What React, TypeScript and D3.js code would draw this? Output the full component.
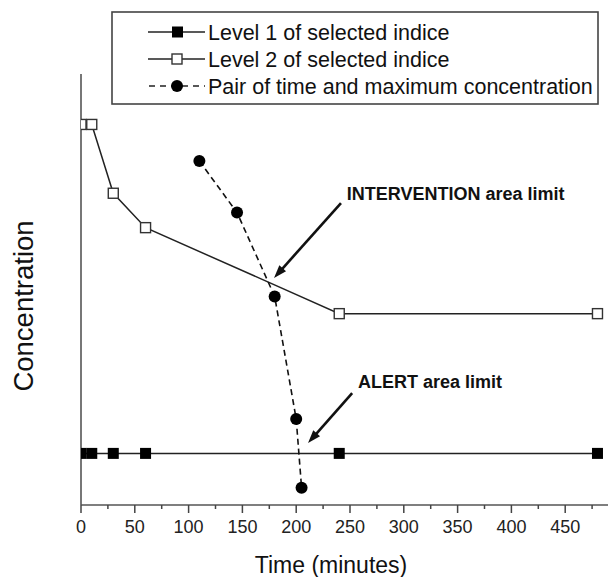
import React from "react";
import * as d3 from "d3";

const level1Times = [0, 10, 30, 60, 240, 480];
const level1Values = [1.2, 1.2, 1.2, 1.2, 1.2, 1.2];
const level2Times = [0, 10, 30, 60, 240, 480];
const level2Values = [8.85, 8.85, 7.25, 6.45, 4.45, 4.45];
const pairTimes = [110, 145, 180, 200, 205];
const pairValues = [8.0, 6.8, 4.85, 2.0, 0.4];
const xTicks = [0, 50, 100, 150, 200, 250, 300, 350, 400, 450];
const xMinorTicks = d3.range(0, 501, 25);
const legendLabels = [
  "Level 1 of selected indice",
  "Level 2 of selected indice",
  "Pair of time and maximum concentration",
];
const annotations = [
  { text: "INTERVENTION area limit", tx: 247, ty: 7.1, from: [241.6, 7.02], to: [179.4, 5.28] },
  { text: "ALERT area limit", tx: 257.5, ty: 2.71, from: [252, 2.6], to: [211, 1.44] },
];

const W = 608;
const H = 577;
const FONT = "'Liberation Sans', Arial, Helvetica, sans-serif";

export default function App() {
  const x = d3.scaleLinear().domain([0, 500]).range([81, 619]);
  const y = d3.scaleLinear().domain([0, 10]).range([505, 75]);
  const line = d3
    .line<[number, number]>()
    .x((d) => x(d[0]))
    .y((d) => y(d[1]));

  const l1 = level1Times.map((t, i) => [t, level1Values[i]] as [number, number]);
  const l2 = level2Times.map((t, i) => [t, level2Values[i]] as [number, number]);
  const pr = pairTimes.map((t, i) => [t, pairValues[i]] as [number, number]);

  const arrow = (from: number[], to: number[]) => {
    const x1 = x(from[0]), y1 = y(from[1]), x2 = x(to[0]), y2 = y(to[1]);
    const dx = x2 - x1, dy = y2 - y1;
    const len = Math.hypot(dx, dy);
    const ux = dx / len, uy = dy / len;
    const hl = 13, hw = 4.5;
    const bx = x2 - ux * hl, by = y2 - uy * hl;
    const p = `${x2},${y2} ${bx - uy * hw},${by + ux * hw} ${bx + uy * hw},${by - ux * hw}`;
    return (
      <g>
        <line x1={x1} y1={y1} x2={bx + ux * 2} y2={by + uy * 2} stroke="#111" strokeWidth={2.6} />
        <polygon points={p} fill="#111" />
      </g>
    );
  };

  const legendRows = [32, 59, 86];

  return (
    <svg
      width={W}
      height={H}
      style={{ position: "absolute", left: 0, top: 0, background: "#fff" }}
      fontFamily={FONT}
    >
      <defs>
        <clipPath id="plot">
          <rect x={81} y={60} width={W - 81} height={460} />
        </clipPath>
      </defs>
      {/* Axes */}
      <line x1={81} y1={74} x2={81} y2={505} stroke="#555" strokeWidth={1.6} />
      <line x1={81} y1={505} x2={W} y2={505} stroke="#555" strokeWidth={1.6} />
      {xMinorTicks.map((t) => (
        <line
          key={"m" + t}
          x1={x(t)}
          x2={x(t)}
          y1={505}
          y2={t % 50 === 0 ? 513 : 509}
          stroke="#444"
          strokeWidth={1.5}
        />
      ))}
      {xTicks.map((t) => (
        <text key={"t" + t} x={x(t)} y={533} fontSize={18} textAnchor="middle" fill="#222">
          {t}
        </text>
      ))}
      <text x={331} y={573} fontSize={23} textAnchor="middle" fill="#111">
        Time (minutes)
      </text>
      <text
        transform={`translate(33,306) rotate(-90)`}
        fontSize={27.5}
        textAnchor="middle"
        fill="#111"
      >
        Concentration
      </text>

      <g clipPath="url(#plot)">
        {/* Level 1 */}
        <path d={line(l1) || ""} fill="none" stroke="#222" strokeWidth={1.5} />
        {l1.map((d, i) => (
          <rect key={"a" + i} x={x(d[0]) - 5.5} y={y(d[1]) - 5.5} width={11} height={11} fill="#000" />
        ))}
        {/* Level 2 */}
        <path d={line(l2) || ""} fill="none" stroke="#222" strokeWidth={1.5} />
        {l2.map((d, i) => (
          <rect
            key={"b" + i}
            x={x(d[0]) - 5}
            y={y(d[1]) - 5}
            width={10}
            height={10}
            fill="#fff"
            stroke="#333"
            strokeWidth={1.4}
          />
        ))}
        {/* Pair */}
        <path d={line(pr) || ""} fill="none" stroke="#111" strokeWidth={1.6} strokeDasharray="6,4" />
        {pr.map((d, i) => (
          <circle key={"c" + i} cx={x(d[0])} cy={y(d[1])} r={6} fill="#000" />
        ))}
      </g>

      {/* Annotations */}
      {annotations.map((a, i) => (
        <g key={"an" + i}>
          {arrow(a.from, a.to)}
          <text x={x(a.tx)} y={y(a.ty)} fontSize={18} fontWeight="bold" fill="#111">
            {a.text}
          </text>
        </g>
      ))}

      {/* Legend */}
      <rect x={112} y={12} width={486} height={92} fill="#fff" stroke="#444" strokeWidth={1.6} />
      {legendLabels.map((lab, i) => {
        const cy = legendRows[i];
        return (
          <g key={"l" + i}>
            {i < 2 ? (
              <line x1={148} x2={205} y1={cy} y2={cy} stroke="#222" strokeWidth={1.5} />
            ) : (
              <line x1={148} x2={205} y1={cy} y2={cy} stroke="#222" strokeWidth={1.6} strokeDasharray="6,5" strokeDashoffset={-1} />
            )}
            {i === 0 && <rect x={172} y={cy - 5.5} width={11} height={11} fill="#000" />}
            {i === 1 && (
              <rect x={172} y={cy - 5} width={10} height={10} fill="#fff" stroke="#333" strokeWidth={1.4} />
            )}
            {i === 2 && <circle cx={177} cy={cy} r={6} fill="#000" />}
            <text x={208} y={cy + 7.7} fontSize={21.5} fill="#111">
              {lab}
            </text>
          </g>
        );
      })}
    </svg>
  );
}
